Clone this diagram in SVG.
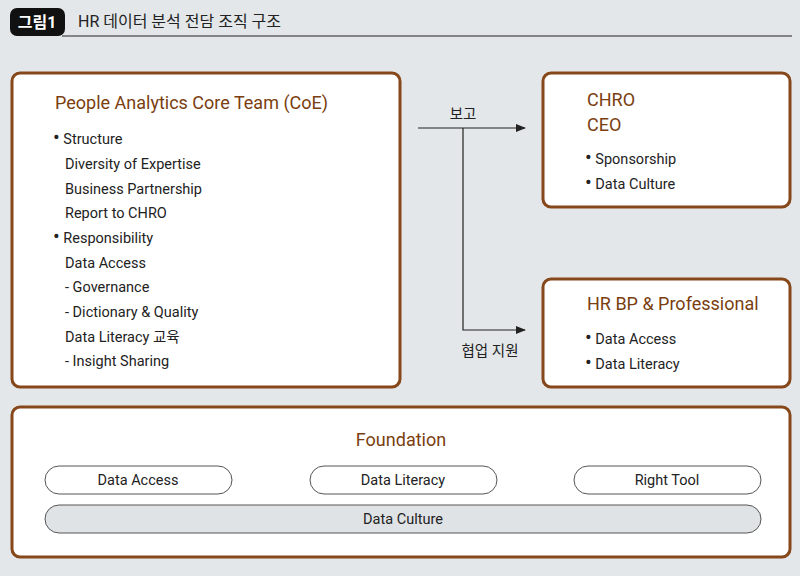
<svg xmlns="http://www.w3.org/2000/svg" width="800" height="576" viewBox="0 0 800 576">
<style>
text{font-family:Roboto,"Noto Sans CJK KR",sans-serif;fill:#222}
.box{fill:#fff;stroke:#86471a;stroke-width:3}
.ttl{fill:#7a3e10;font-size:18px}
.t{font-size:14.5px}
.b{font-size:20px;font-family:Roboto,sans-serif}
.pill{fill:#fff;stroke:#555;stroke-width:1}
.ln{stroke:#222;stroke-width:1.2;fill:none}
</style>
<defs><marker id="ar" markerWidth="10" markerHeight="8" refX="9" refY="4" orient="auto" markerUnits="userSpaceOnUse"><path d="M0,0L10,4L0,8z" fill="#222"/></marker></defs>
<rect width="800" height="576" fill="#e3e7e9"/>
<g id="header">
<rect x="10" y="8" width="55" height="28" rx="7" fill="#111"/>
<text x="37" y="28" text-anchor="middle" style="fill:#fff;font-size:16px;font-weight:bold">그림1</text>
<text x="78" y="27" style="font-size:16px">HR 데이터 분석 전담 조직 구조</text>
<line x1="62" y1="36" x2="792" y2="36" stroke="#222" stroke-width="1.2"/>
</g>
<g id="coe">
<rect class="box" x="12" y="73" width="388" height="314" rx="8"/>
<text class="ttl" x="55" y="109">People Analytics Core Team (CoE)</text>
<text class="t" x="53" y="144"><tspan class="b">•</tspan> Structure</text>
<text class="t" x="65" y="169">Diversity of Expertise</text>
<text class="t" x="65" y="194">Business Partnership</text>
<text class="t" x="65" y="218">Report to CHRO</text>
<text class="t" x="53" y="243"><tspan class="b">•</tspan> Responsibility</text>
<text class="t" x="65" y="268">Data Access</text>
<text class="t" x="65" y="292">- Governance</text>
<text class="t" x="65" y="317">- Dictionary &amp; Quality</text>
<text class="t" x="65" y="342">Data Literacy 교육</text>
<text class="t" x="65" y="366">- Insight Sharing</text>
</g>
<g id="chro">
<rect class="box" x="543" y="73" width="247" height="134" rx="8"/>
<text class="ttl" x="587" y="106">CHRO</text>
<text class="ttl" x="587" y="131">CEO</text>
<text class="t" x="585" y="164"><tspan class="b">•</tspan> Sponsorship</text>
<text class="t" x="585" y="189"><tspan class="b">•</tspan> Data Culture</text>
</g>
<g id="hrbp">
<rect class="box" x="543" y="279" width="247" height="108" rx="8"/>
<text class="ttl" x="587" y="310">HR BP &amp; Professional</text>
<text class="t" x="585" y="344"><tspan class="b">•</tspan> Data Access</text>
<text class="t" x="585" y="369"><tspan class="b">•</tspan> Data Literacy</text>
</g>
<g id="connectors">
<path class="ln" d="M418,128H525" marker-end="url(#ar)"/>
<path class="ln" d="M463,128V330H525" marker-end="url(#ar)"/>
<text class="t" x="463" y="119" text-anchor="middle">보고</text>
<text class="t" x="490" y="356" text-anchor="middle">협업 지원</text>
</g>
<g id="foundation">
<rect class="box" x="12" y="407" width="778" height="150" rx="8"/>
<text class="ttl" x="401" y="446" text-anchor="middle">Foundation</text>
<rect class="pill" x="45" y="466" width="187" height="28" rx="14"/>
<text class="t" x="138" y="485" text-anchor="middle">Data Access</text>
<rect class="pill" x="310" y="466" width="187" height="28" rx="14"/>
<text class="t" x="403" y="485" text-anchor="middle">Data Literacy</text>
<rect class="pill" x="574" y="466" width="187" height="28" rx="14"/>
<text class="t" x="667" y="485" text-anchor="middle">Right Tool</text>
<rect class="pill" x="45" y="505" width="716" height="28" rx="14" style="fill:#dfe3e6"/>
<text class="t" x="403" y="524" text-anchor="middle">Data Culture</text>
</g>
</svg>
